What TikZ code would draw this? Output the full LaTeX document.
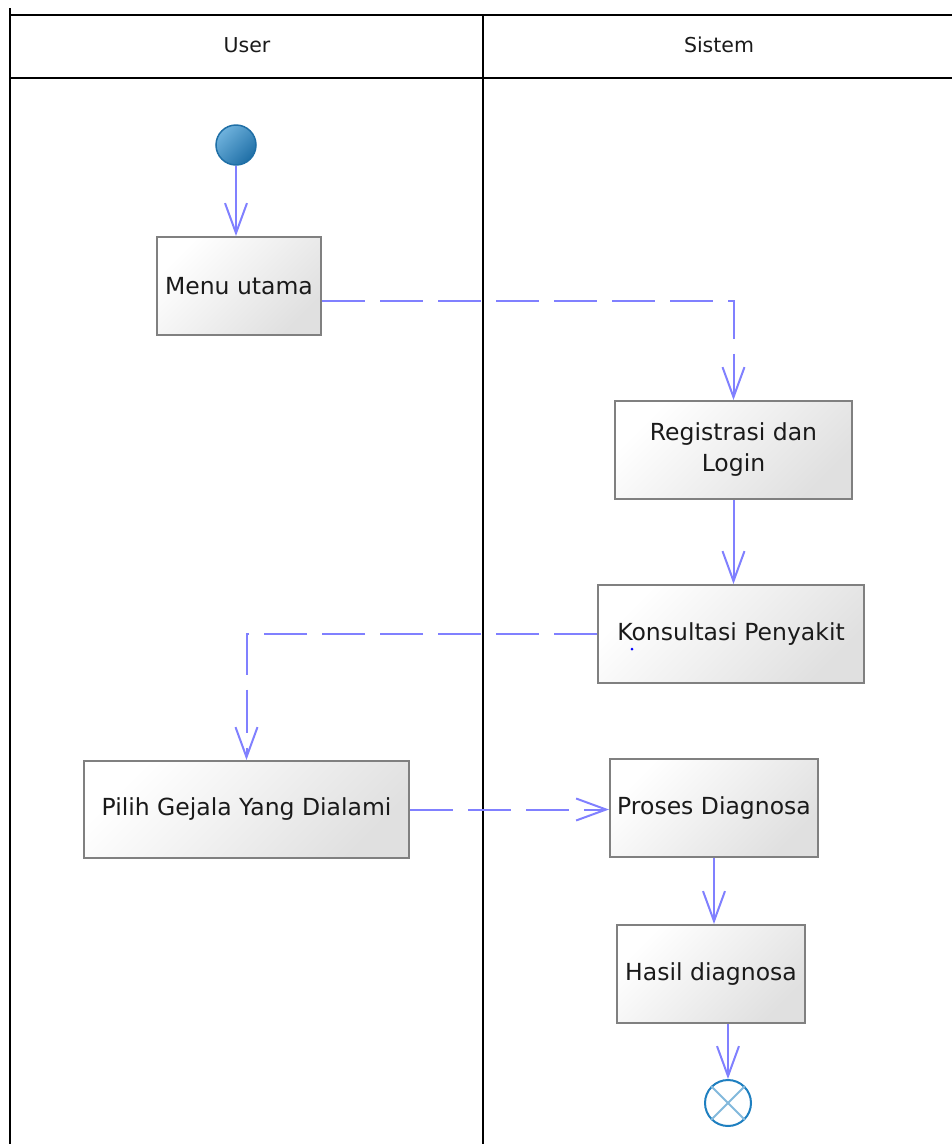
\documentclass[tikz,border=0pt]{standalone}
\usepackage{fontspec}
\setmainfont{DejaVu Sans}
\usetikzlibrary{arrows.meta}
\definecolor{flow}{HTML}{8080FF}
\definecolor{boxline}{HTML}{808080}
\definecolor{boxfill}{HTML}{E0E0E0}
\definecolor{nodeblue}{HTML}{1E7FC0}
\definecolor{startlight}{HTML}{6FB2DD}
\definecolor{startdark}{HTML}{1F6FA6}
\definecolor{txt}{HTML}{1A1A1A}
\tikzset{
  lane/.style={line width=2pt, black},
  lanehead/.style={font=\fontsize{20.5}{24}\selectfont, text=txt},
  activity/.style={draw=boxline, line width=2pt, top color=white, bottom color=boxfill,
    shading angle=45, font=\fontsize{23.5}{31}\selectfont, text=txt, align=center,
    inner sep=0pt},
  flowline/.style={draw=flow, line width=2pt,
    -{Straight Barb[length=30pt,width=22pt,line width=2pt]}},
  dashflow/.style={flowline, dash pattern=on 43pt off 15pt},
  startnode/.style={circle, minimum size=40pt, inner sep=0pt, draw=startdark, line width=1.5pt,
    top color=startlight, bottom color=startdark, shading angle=45},
  endnode/.style={circle, minimum size=46pt, inner sep=0pt, draw=nodeblue, line width=2pt, fill=white}
}
\begin{document}
\begin{tikzpicture}[x=1pt,y=-1pt]
\useasboundingbox (0,0) rectangle (952,1144);
% swimlane frame
\coordinate (tl) at (10,8);
\coordinate (bl) at (10,1144);
\coordinate (ht) at (10,15);
\coordinate (hr) at (952,15);
\coordinate (hb) at (10,78);
\coordinate (hbr) at (952,78);
\coordinate (mt) at (483,15);
\coordinate (mb) at (483,1144);
\draw[lane] (tl) -- (bl);
\draw[lane] (ht) -- (hr);
\draw[lane] (hb) -- (hbr);
\draw[lane] (mt) -- (mb);
\node[lanehead] (user) at (247,45) {User};
\node[lanehead] (sistem) at (719,45) {Sistem};

% activities
\node[startnode] (start) at (236,145) {};
\node[activity, minimum width=164pt, minimum height=98pt] (menu) at (239,286) {Menu utama};
\node[activity, minimum width=237pt, minimum height=98pt] (reg) at (733.5,450) {Registrasi dan\\ Login};
\node[activity, minimum width=266pt, minimum height=98pt] (kons) at (731,634) {Konsultasi Penyakit};
\node[activity, minimum width=325pt, minimum height=97pt] (pilih) at (246.5,809.5) {Pilih Gejala Yang Dialami};
\node[activity, minimum width=208pt, minimum height=98pt] (proses) at (714,808) {Proses Diagnosa};
\node[activity, minimum width=188pt, minimum height=98pt] (hasil) at (711,974) {Hasil diagnosa};
\node[endnode] (end) at (728,1103) {};
\draw[nodeblue!55, line width=2pt] (end.north west) -- (end.south east);
\draw[nodeblue!55, line width=2pt] (end.north east) -- (end.south west);
\fill[blue] (632,649) circle (1.5pt);

% flows
\coordinate (menurow) at (0,301);
\draw[flowline] (start.south) -- (start.south |- menu.north);
\draw[dashflow] (menu.east |- menurow) -| (reg.north);
\draw[flowline] (reg.south) -- (reg.south |- kons.north);
\draw[dashflow] (kons.west) -| (pilih.north);
\draw[dashflow] (pilih.east) -- (pilih.east -| proses.west);
\draw[flowline] (proses.south) -- (proses.south |- hasil.north);
\draw[flowline] (end.north |- hasil.south) -- (end.north);
\end{tikzpicture}
\end{document}
